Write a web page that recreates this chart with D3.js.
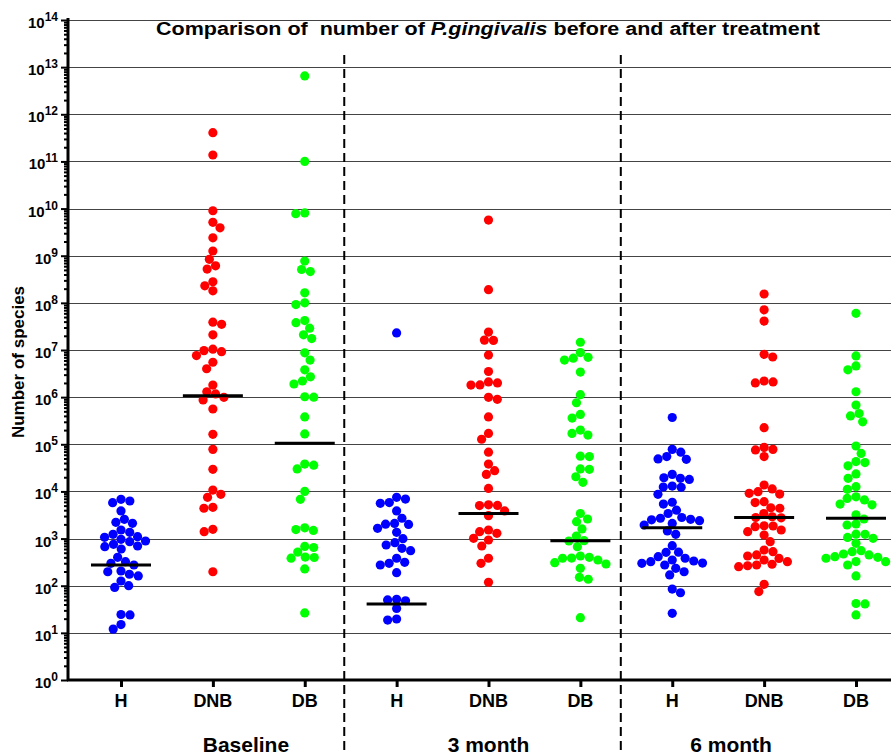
<!DOCTYPE html>
<html><head><meta charset="utf-8">
<script src="https://cdn.jsdelivr.net/npm/d3@7"></script>
<style>
body{margin:0;background:#fff}
svg{display:block}
text{font-family:"Liberation Sans",Arial,sans-serif;font-weight:bold;fill:#000}
</style>
</head><body><svg id="c" width="891" height="756"></svg>
<script>
// ---------------- DATA ----------------
const categories = ["H", "DNB", "DB"];
const timepoints = ["Baseline", "3 month", "6 month"];
const yTickExponents = [0,1,2,3,4,5,6,7,8,9,10,11,12,13,14];

const baselineH = [6800, 5770, 6270, 3850, 2110, 2215, 2560, 1360, 1520, 1096, 1233, 966, 859, 889, 1064, 756, 673, 696, 601, 401, 323, 275, 299, 205, 198, 161, 175, 126, 100, 92, 24, 24.5, 15, 12];
const baselineDNB = [4.07e11, 1.37e11, 9.0e9, 5.1e9, 3.9e9, 2.4e9, 1.26e9, 8.4e8, 5.2e8, 6.1e8, 2.8e8, 2.3e8, 1.8e8, 3.9e7, 3.5e7, 2.1e7, 9.7e6, 7.6e6, 9.2e6, 1.04e7, 5.5e6, 4.0e6, 1.8e6, 1.3e6, 9.9e5, 8.7e5, 1.17e6, 5.6e5, 1.63e5, 7.8e4, 2.95e4, 1.07e4, 7.5e3, 8.7e3, 4.4e3, 4.6e3, 1.57e3, 1.4e3, 198];
const baselineDB = [6.5e12, 1.0e11, 8.1e9, 7.8e9, 7.7e8, 4.6e8, 5.1e8, 1.63e8, 1.0e8, 9.2e7, 3.8e7, 4.2e7, 2.9e7, 2.1e7, 1.75e7, 8.7e6, 6.1e6, 3.8e6, 2.7e6, 1.9e6, 2.2e6, 1.0e6, 1.02e6, 3.8e5, 1.66e5, 3.6e4, 3.0e4, 3.8e4, 1.0e4, 6.8e3, 1.55e3, 1.49e3, 1.69e3, 682, 517, 647, 405, 384, 397, 227, 26.5];
const month3H = [2.3e7, 6.9e3, 5.6e3, 5.8e3, 7.5e3, 3.85e3, 2.7e3, 2.0e3, 2.1e3, 2.02e3, 1.65e3, 1.36e3, 818, 994, 622, 731, 553, 382, 299, 275, 314, 189, 50, 48, 51.5, 33, 18.7, 19.7];
const month3DNB = [5.7e9, 1.9e8, 2.4e7, 1.6e7, 1.62e7, 7.8e6, 3.5e6, 1.8e6, 2.0e6, 2.1e6, 1.82e6, 9.9e5, 9.0e5, 3.8e5, 1.7e5, 1.28e5, 6.8e4, 3.8e4, 2.3e4, 2.75e4, 1.16e4, 5.0e3, 5.05e3, 5.2e3, 3.85e3, 3.06e3, 1.4e3, 1.52e3, 1.29e3, 1.01e3, 933, 696, 382, 299, 118];
const month3DB = [1.46e7, 6.1e6, 7.0e6, 6.7e6, 8.8e6, 3.4e6, 1.13e6, 7.6e5, 4.3e5, 3.6e5, 2.0e5, 1.57e5, 1.7e5, 5.5e4, 5.6e4, 2.95e4, 3.0e4, 2.05e4, 1.56e4, 3.4e3, 2.6e3, 2.28e3, 1.6e3, 1.13e3, 889, 901, 673, 427, 382, 351, 289, 308, 385, 401, 234, 151, 137, 21];
const month6H = [3.7e5, 7.8e4, 5.5e4, 4.8e4, 4.9e4, 6.8e4, 1.9e4, 1.8e4, 1.95e4, 2.3e4, 1.22e4, 1.24e4, 1.3e4, 8.7e3, 5.9e3, 5.4e3, 4.0e3, 3.4e3, 2.56e3, 2.8e3, 2.7e3, 2.5e3, 2.1e3, 1.94e3, 2.4e3, 1.23e3, 1.45e3, 706, 512, 515, 323, 382, 413, 351, 334, 275, 299, 302, 198, 234, 169, 85, 71, 26];
const month6DNB = [1.54e8, 7.1e7, 4.1e7, 8.1e6, 7.1e6, 2.2e6, 2.0e6, 2.1e6, 2.25e5, 7.8e4, 5.5e4, 7.6e4, 8.6e4, 1.13e4, 9.1e3, 9.9e3, 8.8e3, 1.37e4, 5.8e3, 4.4e3, 4.5e3, 6.05e3, 2.9e3, 2.8e3, 2.75e3, 3.4e3, 1.79e3, 1.4e3, 1.85e3, 1.87e3, 1.19e3, 1.52e3, 859, 527, 427, 323, 275, 253, 285, 351, 449, 572, 380, 265, 107, 75];
const month6DB = [6.0e7, 7.5e6, 4.6e6, 3.8e6, 1.3e6, 6.8e5, 4.0e5, 4.5e5, 3.0e5, 9.2e4, 6.4e4, 4.1e4, 3.5e4, 4.3e4, 2.35e4, 1.9e4, 1.11e4, 1.26e4, 7.1e3, 7.7e3, 6.6e3, 5.4e3, 5.2e3, 2.6e3, 3.2e3, 1.94e3, 2.04e3, 1.23e3, 1.01e3, 1.24e3, 1.06e3, 794, 553, 471, 413, 382, 401, 449, 527, 323, 275, 325, 161, 41, 42, 24];

const medians = [275, 1.07e6, 1.05e5, 41, 3.4e3, 900, 1.7e3, 2.8e3, 2.7e3];
const seriesColors = ["#0000ff", "#ff0000", "#00ff00"];

const allSeries = [baselineH, baselineDNB, baselineDB, month3H, month3DNB, month3DB, month6H, month6DNB, month6DB];

// ---------------- CHART ----------------
const svg = d3.select("#c");
const x = d3.scaleLinear().domain([0, 8]).range([121, 856]);
const y = d3.scaleLog().domain([1, 1e14]).range([680, 20]);
const axisX0 = 68, plotRight = 891;

// gridlines
svg.append("g").selectAll("line").data(yTickExponents.slice(1)).join("line")
  .attr("x1", axisX0).attr("x2", plotRight)
  .attr("y1", e => Math.round(y(10 ** e)) + 0.5).attr("y2", e => Math.round(y(10 ** e)) + 0.5)
  .attr("stroke", "#444").attr("stroke-width", 1);

// dashed separators
const separators = [2.43, 5.44];
svg.append("g").selectAll("line").data(separators).join("line")
  .attr("x1", d => x(d)).attr("x2", d => x(d))
  .attr("y1", 55).attr("y2", 752)
  .attr("stroke", "#000").attr("stroke-width", 2).attr("stroke-dasharray", "9,5");

// beeswarm layout
const R = 4.6;
function swarm(values, cx) {
  const pts = values.map(v => ({ v, y: y(v) })).sort((a, b) => a.y - b.y);
  const placed = [];
  const d = 2 * R * 0.98;
  pts.forEach((p, idx) => {
    const cands = [cx];
    placed.forEach(q => {
      const dy = Math.abs(q.y - p.y);
      if (dy < d) {
        const dx = Math.sqrt(d * d - dy * dy);
        cands.push(q.x + dx, q.x - dx);
      }
    });
    const sgn = idx % 2 ? 1 : -1;
    cands.sort((a, b) => (Math.abs(a - cx) - Math.abs(b - cx)) || (sgn * (a - b)));
    for (const c of cands) {
      if (placed.every(q => (q.x - c) ** 2 + (q.y - p.y) ** 2 >= d * d - 0.01)) { p.x = c; break; }
    }
    placed.push(p);
  });
  return placed;
}

allSeries.forEach((vals, i) => {
  const pts = swarm(vals, x(i));
  svg.append("g").selectAll("circle").data(pts).join("circle")
    .attr("cx", d => d.x).attr("cy", d => d.y).attr("r", R)
    .attr("fill", seriesColors[i % 3]);
});

// medians
svg.append("g").selectAll("line").data(medians).join("line")
  .attr("x1", (d, i) => x(i) - 30).attr("x2", (d, i) => x(i) + 30)
  .attr("y1", d => y(d)).attr("y2", d => y(d))
  .attr("stroke", "#000").attr("stroke-width", 3);

// y axis
const minorTicks = [];
yTickExponents.slice(0, -1).forEach(e => { for (let k = 2; k <= 9; k++) minorTicks.push(k * 10 ** e); });
svg.append("g").attr("transform", `translate(${axisX0},0)`)
  .call(d3.axisLeft(y).tickValues(minorTicks).tickSize(4).tickFormat(""))
  .call(g => g.select(".domain").remove())
  .call(g => g.selectAll("line").attr("stroke-width", 2));
svg.append("g").attr("transform", `translate(${axisX0},0)`)
  .call(d3.axisLeft(y).tickValues(yTickExponents.map(e => 10 ** e)).tickSize(7).tickFormat(""))
  .call(g => g.select(".domain").remove())
  .call(g => g.selectAll("line").attr("stroke-width", 2));
svg.append("line").attr("x1", axisX0).attr("x2", axisX0).attr("y1", 18).attr("y2", 681)
  .attr("stroke", "#000").attr("stroke-width", 3);

const ylab = svg.append("g").selectAll("text").data(yTickExponents).join("text")
  .attr("x", 58).attr("y", e => y(10 ** e) + 8).attr("text-anchor", "end");
ylab.append("tspan").style("font-size", "15px").text("10");
ylab.append("tspan").style("font-size", "12px").attr("dy", -7).text(e => e);

// x axis
svg.append("g").attr("transform", "translate(0,680)")
  .call(d3.axisBottom(x).tickValues(d3.range(9)).tickSize(7).tickFormat(""))
  .call(g => g.select(".domain").remove())
  .call(g => g.selectAll("line").attr("stroke-width", 3));
svg.append("line").attr("x1", axisX0 - 1).attr("x2", plotRight).attr("y1", 680).attr("y2", 680)
  .attr("stroke", "#000").attr("stroke-width", 3);

svg.append("g").selectAll("text").data(d3.range(9)).join("text")
  .attr("x", i => x(i)).attr("y", 707).attr("text-anchor", "middle")
  .style("font-size", "18px").text(i => categories[i % 3]);

const groupLabelPos = [1.36, 4, 6.64];
svg.append("g").selectAll("text").data(timepoints).join("text")
  .attr("x", (d, i) => x(groupLabelPos[i])).attr("y", 752).attr("text-anchor", "middle")
  .style("font-size", "21px").text(d => d);

// y title
svg.append("text").attr("transform", "translate(24,362) rotate(-90)")
  .attr("text-anchor", "middle").style("font-size", "17px").text("Number of species");

// title
const title = svg.append("text").attr("x", 156).attr("y", 35).attr("xml:space", "preserve")
  .attr("textLength", 664).attr("lengthAdjust", "spacingAndGlyphs").style("font-size", "18px");
title.append("tspan").text("Comparison of  number of ");
title.append("tspan").text("P.gingivalis").style("font-style", "italic");
title.append("tspan").text(" before and after treatment");
</script>
</body></html>
